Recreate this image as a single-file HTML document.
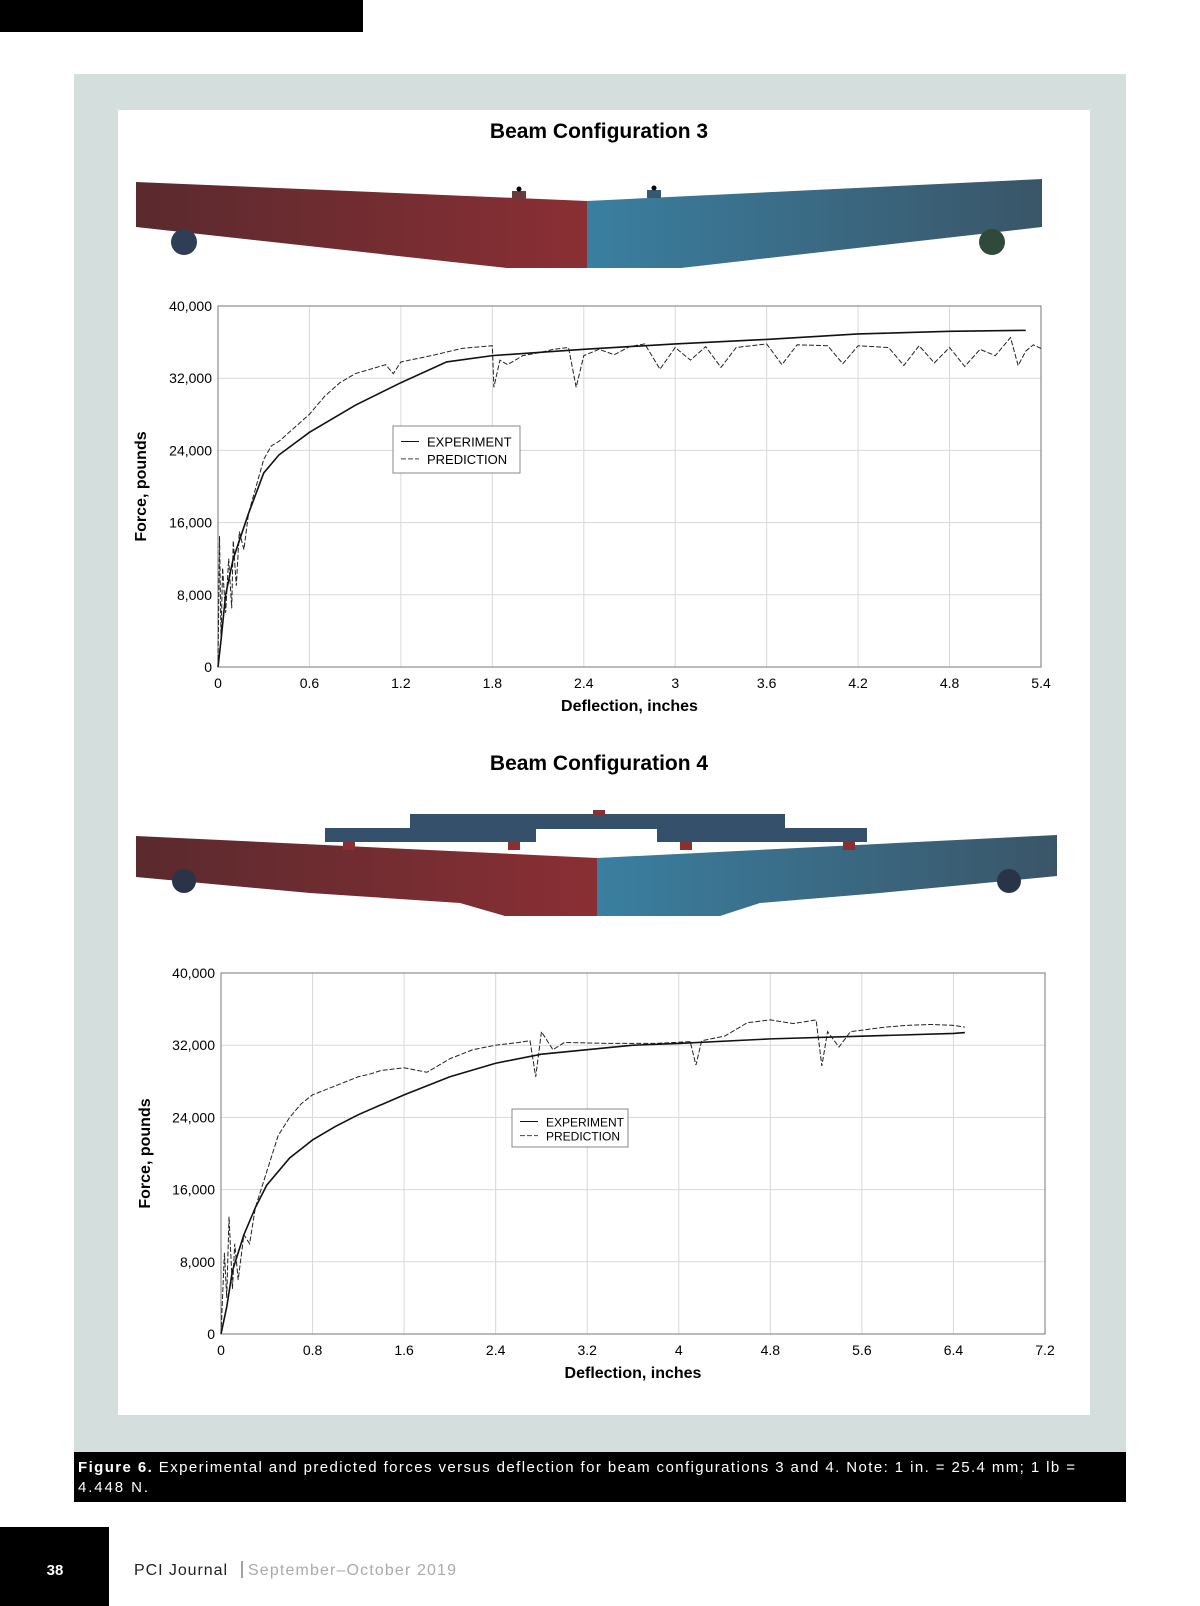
<!DOCTYPE html>
<html><head><meta charset="utf-8"><style>
html,body{margin:0;padding:0;background:#fff;}
svg{display:block;font-family:"Liberation Sans",Arial,sans-serif;}
</style></head><body>
<svg id="page" width="1200" height="1606" viewBox="0 0 1200 1606" xmlns="http://www.w3.org/2000/svg">
<defs>
<linearGradient id="gL" x1="0" x2="1"><stop offset="0" stop-color="#5a2a2e"/><stop offset="1" stop-color="#8a2f34"/></linearGradient>
<linearGradient id="gR" x1="0" x2="1"><stop offset="0" stop-color="#3a7fa0"/><stop offset="1" stop-color="#3a5568"/></linearGradient>
</defs>
<rect x="0" y="0" width="363" height="32" fill="#000"/>
<rect x="74" y="74" width="1052" height="1378" fill="#d4dedd"/>
<rect x="118" y="110" width="972" height="1305" fill="#fff"/>
<rect x="74" y="1452" width="1052" height="50" fill="#000"/>
<text x="78" y="1472" font-size="15" fill="#fff" textLength="997" lengthAdjust="spacing"><tspan font-weight="bold">Figure 6.</tspan> Experimental and predicted forces versus deflection for beam configurations 3 and 4. Note: 1 in. = 25.4 mm; 1 lb =</text>
<text x="78" y="1492" font-size="15" fill="#fff" textLength="70" lengthAdjust="spacing">4.448 N.</text>
<rect x="0" y="1527" width="109" height="79" fill="#000"/>
<text x="55" y="1575" font-size="15" font-weight="bold" fill="#fff" text-anchor="middle">38</text>
<text x="134" y="1575" font-size="16" fill="#222" textLength="93" lengthAdjust="spacing">PCI Journal</text>
<line x1="242" y1="1561" x2="242" y2="1578" stroke="#444"/>
<text x="248" y="1575" font-size="16" fill="#aaa" textLength="208" lengthAdjust="spacing">September–October 2019</text>

<text x="599" y="138" font-size="21" font-weight="bold" text-anchor="middle">Beam Configuration 3</text>
<g>
<polygon points="136,182 587,201 587,268 507,268 136,227" fill="url(#gL)"/>
<polygon points="587,201 1042,179 1042,227 681,268 587,268" fill="url(#gR)"/>
<rect x="512" y="191" width="14" height="8" fill="#6a3a3a"/><circle cx="519" cy="189" r="2.5" fill="#000"/>
<rect x="647" y="190" width="14" height="8" fill="#355a70"/><circle cx="654" cy="188" r="2.5" fill="#000"/>
<circle cx="184" cy="242" r="13" fill="#2e3e55"/><circle cx="992" cy="242" r="13" fill="#2f4a3a"/>
</g>
<text x="599" y="770" font-size="21" font-weight="bold" text-anchor="middle">Beam Configuration 4</text>
<g>
<polygon points="136,836 597,858 597,916 505,916 460,903 310,893 136,877" fill="url(#gL)"/>
<polygon points="597,858 1057,835 1057,876 880,893 760,903 720,916 597,916" fill="url(#gR)"/>
<rect x="410" y="814" width="375" height="15" fill="#34506a"/>
<rect x="325" y="828" width="211" height="14" fill="#34506a"/>
<rect x="657" y="828" width="210" height="14" fill="#34506a"/>
<rect x="593" y="810" width="12" height="5" fill="#8a3030"/>
<rect x="343" y="842" width="12" height="8" fill="#8a3030"/><rect x="508" y="842" width="12" height="8" fill="#8a3030"/>
<rect x="680" y="842" width="12" height="8" fill="#8a3030"/><rect x="843" y="842" width="12" height="8" fill="#8a3030"/>
<circle cx="184" cy="881" r="12" fill="#2a3448"/><circle cx="1009" cy="881" r="12" fill="#2a3448"/>
</g>
<g id="c1"></g>
<g id="c2"></g>
</svg>
<script>
const c1Xticks=[0,0.6,1.2,1.8,2.4,3,3.6,4.2,4.8,5.4];
const c1Yticks=[0,8000,16000,24000,32000,40000];
const c1ExpX=[0,0.02,0.05,0.1,0.2,0.3,0.4,0.6,0.9,1.2,1.5,1.8,2.4,3,3.6,4.2,4.8,5.3];
const c1ExpY=[0,3000,8000,12000,17000,21500,23500,26000,29000,31500,33800,34500,35200,35800,36300,36900,37200,37300];
const c1PreX=[0,0.01,0.02,0.03,0.05,0.07,0.09,0.1,0.12,0.14,0.17,0.2,0.25,0.3,0.35,0.4,0.5,0.6,0.7,0.8,0.9,1.0,1.1,1.15,1.2,1.4,1.6,1.8,1.81,1.85,1.9,2.0,2.1,2.2,2.3,2.35,2.4,2.5,2.6,2.7,2.8,2.9,3.0,3.1,3.2,3.3,3.4,3.6,3.7,3.8,4.0,4.1,4.2,4.4,4.5,4.6,4.7,4.8,4.9,5.0,5.1,5.2,5.25,5.3,5.35,5.4];
const c1PreY=[0,14500,3000,11000,6000,12000,6500,14000,9000,15000,13000,17000,20000,23000,24500,25000,26500,28000,30000,31500,32500,33000,33500,32500,33800,34500,35300,35600,31000,34000,33500,34500,34800,35200,35400,31000,34500,35200,34600,35500,35800,33000,35400,34000,35500,33200,35400,35800,33500,35700,35600,33600,35600,35400,33400,35600,33700,35400,33300,35200,34500,36500,33400,35000,35700,35300];
const c2Xticks=[0,0.8,1.6,2.4,3.2,4,4.8,5.6,6.4,7.2];
const c2Yticks=[0,8000,16000,24000,32000,40000];
const c2ExpX=[0,0.05,0.1,0.2,0.3,0.4,0.6,0.8,1.0,1.2,1.6,2.0,2.4,2.8,3.2,3.6,4.0,4.8,5.6,6.4,6.5];
const c2ExpY=[0,3000,7000,11000,14000,16500,19500,21500,23000,24300,26500,28500,30000,31000,31500,32000,32200,32700,33000,33300,33400];
const c2PreX=[0,0.03,0.05,0.07,0.1,0.12,0.15,0.2,0.25,0.3,0.4,0.5,0.6,0.7,0.8,1.0,1.2,1.3,1.4,1.6,1.8,2.0,2.2,2.4,2.6,2.7,2.75,2.8,2.9,3.0,3.4,3.8,4.1,4.15,4.2,4.4,4.6,4.8,5.0,5.2,5.25,5.3,5.4,5.5,5.8,6.0,6.2,6.4,6.5];
const c2PreY=[0,9000,4000,13000,5000,10000,6000,11000,10000,14000,18000,22000,24000,25500,26500,27500,28500,28800,29200,29500,29000,30500,31500,32000,32300,32500,28500,33500,31500,32300,32200,32200,32400,29800,32500,33000,34500,34800,34400,34800,29700,33500,31800,33500,34000,34200,34300,34200,34000];

const NS="http://www.w3.org/2000/svg";
function mk(parent,tag,attrs){const e=document.createElementNS(NS,tag);for(const k in attrs)e.setAttribute(k,attrs[k]);parent.appendChild(e);return e;}
function fmt(v){return v===0?"0":v.toLocaleString("en-US");}
function chart(g,L,T,R,B,xt,yt,ex,ey,px,py,lg,ylx,name){
  const xmax=xt[xt.length-1],ymax=yt[yt.length-1];
  const sx=v=>L+(R-L)*v/xmax, sy=v=>B-(B-T)*v/ymax;
  xt.forEach(v=>{
    const l=mk(g,'line',{x1:sx(v),x2:sx(v),y1:T,y2:B,stroke:'#d8d8d8'});
    
    
    const t=mk(g,'text',{x:sx(v),y:B+21,'font-size':14,'text-anchor':'middle'});t.textContent=String(v);
    
    
  });
  yt.forEach(v=>{
    const l=mk(g,'line',{x1:L,x2:R,y1:sy(v),y2:sy(v),stroke:'#d8d8d8'});
    
    
    const t=mk(g,'text',{x:L-6,y:sy(v)+5,'font-size':14,'text-anchor':'end'});t.textContent=fmt(v);
    
    
  });
  const fr=mk(g,'rect',{x:L,y:T,width:R-L,height:B-T,fill:'none',stroke:'#777'});
  
  
  const pp=mk(g,'polyline',{points:px.map((x,i)=>sx(x)+','+sy(py[i])).join(' '),fill:'none',stroke:'#222','stroke-width':1,'stroke-dasharray':'5,2'});
  
  
  const ep=mk(g,'polyline',{points:ex.map((x,i)=>sx(x)+','+sy(ey[i])).join(' '),fill:'none',stroke:'#111','stroke-width':1.6});
  
  
  const xl=mk(g,'text',{x:(L+R)/2,y:B+44,'font-size':16,'font-weight':'bold','text-anchor':'middle'});xl.textContent='Deflection, inches';
  
  
  const yl=mk(g,'text',{x:0,y:0,'font-size':16,'font-weight':'bold','text-anchor':'middle',transform:'translate('+ylx+','+(T+B)/2+') rotate(-90)'});yl.textContent='Force, pounds';
  
  
  const lgG=mk(g,'g',{});
  
  
  mk(lgG,'rect',{x:lg[0],y:lg[1],width:lg[2],height:lg[3],fill:'#fff',stroke:'#888'});
  const h=lg[3];
  mk(lgG,'line',{x1:lg[0]+8,x2:lg[0]+26,y1:lg[1]+h*0.33,y2:lg[1]+h*0.33,stroke:'#111'});
  mk(lgG,'line',{x1:lg[0]+8,x2:lg[0]+26,y1:lg[1]+h*0.7,y2:lg[1]+h*0.7,stroke:'#444','stroke-dasharray':'5,2'});
  const fs=h>42?13:12;
  const t1=mk(lgG,'text',{x:lg[0]+34,y:lg[1]+h*0.33+5,'font-size':fs});t1.textContent='EXPERIMENT';
  
  
  const t2=mk(lgG,'text',{x:lg[0]+34,y:lg[1]+h*0.7+5,'font-size':fs});t2.textContent='PREDICTION';
  
  
}
const g1=document.getElementById('c1');


const g2=document.getElementById('c2');


chart(g1,218,306,1041,667,c1Xticks,c1Yticks,c1ExpX,c1ExpY,c1PreX,c1PreY,[393,426,127,47],146,'config3');
chart(g2,221,973,1045,1334,c2Xticks,c2Yticks,c2ExpX,c2ExpY,c2PreX,c2PreY,[512,1109,116,38],150,'config4');
</script>
</body></html>
